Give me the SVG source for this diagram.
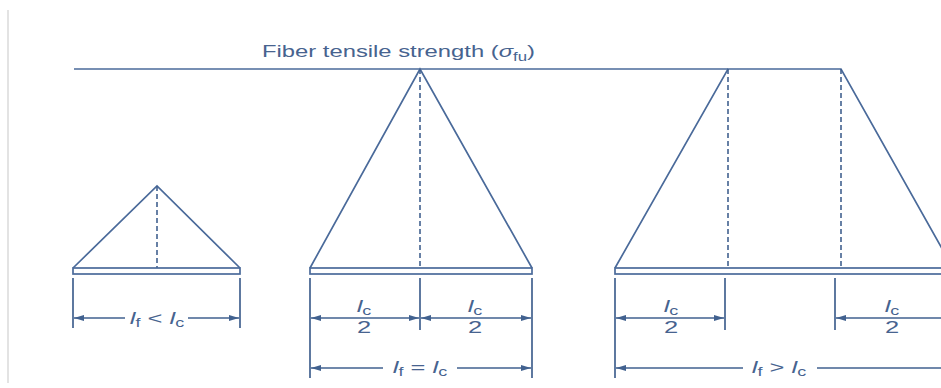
<svg xmlns="http://www.w3.org/2000/svg" width="941" height="388" viewBox="0 0 941 388">
<defs>
<marker id="arr" viewBox="0 0 10 6" refX="10" refY="3" markerWidth="10" markerHeight="6" markerUnits="userSpaceOnUse" orient="auto-start-reverse">
<path d="M0,0 L10,3 L0,6 Z" fill="#41618f"/>
</marker>
<style>
.ln{stroke:#4a6a9a;stroke-width:1.7;fill:none}
.bar{stroke:#4a6a9a;stroke-width:1.7;fill:#fff}
.dash{stroke:#41618f;stroke-width:1.6;stroke-dasharray:5 3;fill:none}
.dim{stroke:#41618f;stroke-width:1.7;fill:none}
.ar{stroke:#41618f;stroke-width:1.5;fill:none}
.t{font-family:"Liberation Sans",Arial,sans-serif;fill:#47638f;font-size:17px}
.s{font-size:12px}
.i{font-style:italic}
</style>
</defs>
<rect width="941" height="388" fill="#fff"/>
<line x1="8" y1="10" x2="8" y2="383" stroke="#d0d0d0" stroke-width="1.2"/>

<g id="title">
<text class="t" transform="translate(262,57) scale(1.4,1)">Fiber tensile strength (<tspan class="i">σ</tspan><tspan class="s" dy="4">fu</tspan><tspan dy="-4">)</tspan></text>
<line class="ln" x1="74" y1="69" x2="728" y2="69"/>
</g>

<g id="fiber-short">
<polyline class="ln" points="73,268 157,186 240,268"/>
<line class="dash" x1="157" y1="186" x2="157" y2="268"/>
<rect class="bar" x="73" y="268" width="167" height="6"/>
</g>

<g id="fiber-critical">
<polyline class="ln" points="310,268 420,69 532,268"/>
<line class="dash" x1="420" y1="69" x2="420" y2="268"/>
<rect class="bar" x="310" y="268" width="222" height="6"/>
</g>

<g id="fiber-long">
<polyline class="ln" points="615,268 728,69 841,69 953,268"/>
<line class="dash" x1="728" y1="69" x2="728" y2="268"/>
<line class="dash" x1="841" y1="69" x2="841" y2="268"/>
<rect class="bar" x="615" y="268" width="345" height="6"/>
</g>

<g id="connectors">
<line class="dim" x1="73" y1="278" x2="73" y2="328"/>
<line class="dim" x1="240" y1="278" x2="240" y2="328"/>
<line class="ar" x1="125" y1="318" x2="74" y2="318" marker-end="url(#arr)"/>
<line class="ar" x1="188" y1="318" x2="239" y2="318" marker-end="url(#arr)"/>
<line class="dim" x1="310" y1="278" x2="310" y2="378"/>
<line class="dim" x1="420" y1="278" x2="420" y2="330"/>
<line class="dim" x1="532" y1="278" x2="532" y2="378"/>
<line class="ar" x1="311" y1="318" x2="419" y2="318" marker-start="url(#arr)" marker-end="url(#arr)"/>
<line class="ar" x1="421" y1="318" x2="531" y2="318" marker-start="url(#arr)" marker-end="url(#arr)"/>
<line class="ar" x1="383" y1="368" x2="311" y2="368" marker-end="url(#arr)"/>
<line class="ar" x1="457" y1="368" x2="531" y2="368" marker-end="url(#arr)"/>
<line class="dim" x1="615" y1="278" x2="615" y2="378"/>
<line class="dim" x1="725" y1="278" x2="725" y2="330"/>
<line class="dim" x1="835" y1="278" x2="835" y2="330"/>
<line class="ar" x1="616" y1="318" x2="724" y2="318" marker-start="url(#arr)" marker-end="url(#arr)"/>
<line class="ar" x1="836" y1="318" x2="952" y2="318" marker-start="url(#arr)" marker-end="url(#arr)"/>
<line class="ar" x1="743" y1="368" x2="616" y2="368" marker-end="url(#arr)"/>
<line class="ar" x1="817" y1="368" x2="952" y2="368" marker-end="url(#arr)"/>
</g>

<g id="labels">
<text class="t" text-anchor="middle" transform="translate(157,324) scale(1.5,1)"><tspan class="i">l</tspan><tspan class="s" dy="3">f</tspan><tspan dy="-3"> &lt; </tspan><tspan class="i">l</tspan><tspan class="s" dy="3">c</tspan></text>
<text class="t" text-anchor="middle" transform="translate(364,312) scale(1.5,1)"><tspan class="i">l</tspan><tspan class="s" dy="3">c</tspan></text>
<text class="t" text-anchor="middle" transform="translate(364,333) scale(1.5,1)">2</text>
<text class="t" text-anchor="middle" transform="translate(475,312) scale(1.5,1)"><tspan class="i">l</tspan><tspan class="s" dy="3">c</tspan></text>
<text class="t" text-anchor="middle" transform="translate(475,333) scale(1.5,1)">2</text>
<text class="t" text-anchor="middle" transform="translate(420,373) scale(1.5,1)"><tspan class="i">l</tspan><tspan class="s" dy="3">f</tspan><tspan dy="-3"> = </tspan><tspan class="i">l</tspan><tspan class="s" dy="3">c</tspan></text>
<text class="t" text-anchor="middle" transform="translate(671,312) scale(1.5,1)"><tspan class="i">l</tspan><tspan class="s" dy="3">c</tspan></text>
<text class="t" text-anchor="middle" transform="translate(671,333) scale(1.5,1)">2</text>
<text class="t" text-anchor="middle" transform="translate(892,312) scale(1.5,1)"><tspan class="i">l</tspan><tspan class="s" dy="3">c</tspan></text>
<text class="t" text-anchor="middle" transform="translate(892,333) scale(1.5,1)">2</text>
<text class="t" text-anchor="middle" transform="translate(779,373) scale(1.5,1)"><tspan class="i">l</tspan><tspan class="s" dy="3">f</tspan><tspan dy="-3"> &gt; </tspan><tspan class="i">l</tspan><tspan class="s" dy="3">c</tspan></text>
</g>
</svg>
